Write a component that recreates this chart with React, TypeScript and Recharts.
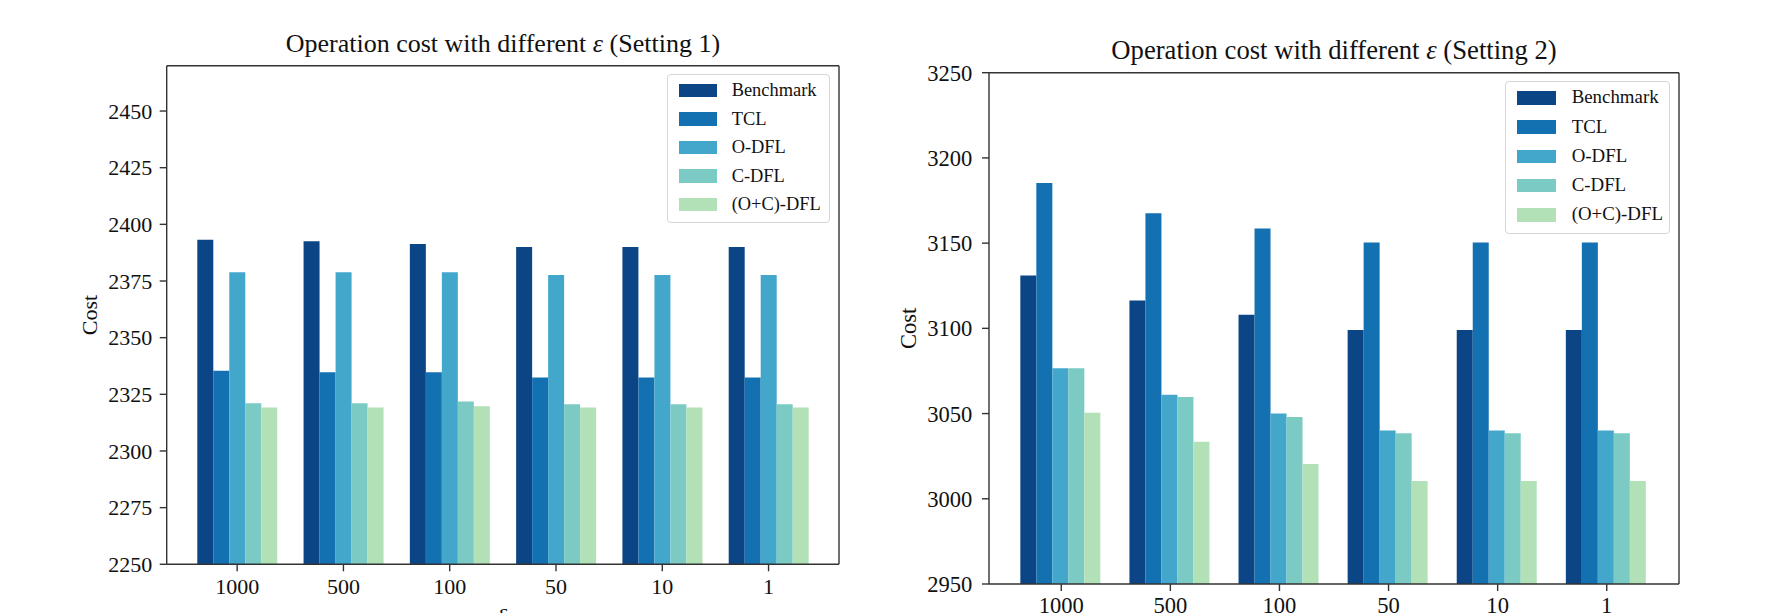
import React from "react";
import { BarChart, Bar, XAxis, YAxis, Legend } from "recharts";

const FONT = '"Liberation Serif", "Times New Roman", serif';

const epsilons = ["1000", "500", "100", "50", "10", "1"];
const seriesNames = ["Benchmark", "TCL", "O-DFL", "C-DFL", "(O+C)-DFL"];
const seriesColors = ["#0b4585", "#1371b1", "#43a7cc", "#7bcac4", "#b2e1b8"];

// Setting 1
const benchmark1 = [2393.2, 2392.5, 2391.3, 2390.0, 2390.0, 2390.0];
const tcl1 = [2335.4, 2334.7, 2334.7, 2332.4, 2332.4, 2332.4];
const odfl1 = [2378.9, 2378.9, 2378.9, 2377.7, 2377.7, 2377.7];
const cdfl1 = [2321.1, 2321.1, 2321.8, 2320.6, 2320.6, 2320.6];
const ocdfl1 = [2319.2, 2319.2, 2319.7, 2319.2, 2319.2, 2319.2];
const yTicks1 = [2250, 2275, 2300, 2325, 2350, 2375, 2400, 2425, 2450];

// Setting 2
const benchmark2 = [3131.0, 3116.3, 3108.0, 3099.0, 3099.0, 3099.0];
const tcl2 = [3185.3, 3167.5, 3158.6, 3150.4, 3150.4, 3150.4];
const odfl2 = [3076.6, 3061.0, 3050.0, 3040.0, 3040.0, 3040.0];
const cdfl2 = [3076.6, 3059.7, 3048.0, 3038.4, 3038.4, 3038.4];
const ocdfl2 = [3050.5, 3033.4, 3020.4, 3010.5, 3010.5, 3010.5];
const yTicks2 = [2950, 3000, 3050, 3100, 3150, 3200, 3250];

function buildRows(cols: number[][]) {
  return epsilons.map((eps, i) => {
    const row: any = { eps };
    seriesNames.forEach((name, k) => {
      row[name] = cols[k][i];
    });
    return row;
  });
}

const AXIS = { stroke: "#333", strokeWidth: 1.4 };

const LegendBox = ({ s, w, h }: { s: number; w: number; h: number }) => (
  <div
    style={{
      position: "relative",
      width: w,
      height: h,
      boxSizing: "border-box",
      border: "1px solid #d6d6d6",
      borderRadius: 4,
      background: "rgba(255,255,255,0.85)",
      fontFamily: FONT,
      color: "#111",
    }}
  >
    {seriesNames.map((name, i) => {
      const cy = (15.3 + i * 28.55) * s;
      const fs = 18.4 * s;
      return (
        <React.Fragment key={name}>
          <div
            style={{
              position: "absolute",
              left: 11 * s,
              top: cy - 6.6 * s,
              width: 38 * s,
              height: 13.3 * s,
              background: seriesColors[i],
            }}
          />
          <div
            style={{
              position: "absolute",
              left: 64 * s,
              top: cy - fs / 2,
              fontSize: fs,
              lineHeight: `${fs}px`,
              whiteSpace: "nowrap",
            }}
          >
            {name}
          </div>
        </React.Fragment>
      );
    })}
  </div>
);

interface PanelProps {
  rows: any[];
  domain: [number, number];
  ticks: number[];
  title: string;
  left: number;
  s: number;
  margin: { top: number; right: number; bottom: number; left: number };
  yAxisWidth: number;
  xAxisHeight: number;
  pad: { left: number; right: number };
  costOffset: number;
  yTickMargin: number;
  xTickMargin: number;
  titleBaseline: number;
  titleCenter: number;
  legend: { left: number; top: number; w: number; h: number };
  showEps: boolean;
}

const Panel = (p: PanelProps) => {
  const tickFs = 22 * p.s;
  const titleFs = 26 * p.s;
  // the frame axes (top / right) take 1px each, so shave that off the margins
  const margin = {
    top: p.margin.top - 1,
    right: p.margin.right - 1,
    bottom: p.margin.bottom,
    left: p.margin.left,
  };
  return (
    <div style={{ position: "absolute", left: p.left, top: 0, width: 900, height: 613 }}>
      <div
        style={{
          position: "absolute",
          left: p.titleCenter - 400,
          width: 800,
          top: p.titleBaseline - 0.8375 * titleFs,
          textAlign: "center",
          fontFamily: FONT,
          fontSize: titleFs,
          lineHeight: `${titleFs}px`,
          color: "#111",
          whiteSpace: "nowrap",
        }}
      >
        Operation cost with different <span style={{ fontStyle: "italic" }}>ε</span> ({p.title})
      </div>
      <BarChart
        width={900}
        height={613}
        data={p.rows}
        margin={margin}
        barGap={0}
        barCategoryGap="12.5%"
      >
        <XAxis
          dataKey="eps"
          height={p.xAxisHeight}
          padding={p.pad}
          axisLine={AXIS}
          tickLine={AXIS}
          tickSize={7}
          tickMargin={p.xTickMargin}
          tick={{ fill: "#111", fontSize: tickFs, fontFamily: FONT }}
          interval={0}
          label={
            p.showEps
              ? {
                  value: "ε",
                  position: "bottom",
                  offset: -1,
                  style: { fill: "#111", fontSize: tickFs, fontFamily: FONT, fontStyle: "italic" },
                }
              : undefined
          }
        />
        <XAxis
          xAxisId="top"
          dataKey="eps"
          orientation="top"
          height={1}
          padding={p.pad}
          tick={false}
          tickLine={false}
          axisLine={AXIS}
        />
        <YAxis
          domain={p.domain}
          ticks={p.ticks}
          allowDataOverflow
          width={p.yAxisWidth}
          axisLine={AXIS}
          tickLine={AXIS}
          tickSize={7}
          tickMargin={p.yTickMargin}
          tick={{ fill: "#111", fontSize: tickFs, fontFamily: FONT }}
          interval={0}
          label={{
            value: "Cost",
            angle: -90,
            position: "insideLeft",
            offset: p.costOffset,
            style: { textAnchor: "middle", fill: "#111", fontSize: tickFs, fontFamily: FONT },
          }}
        />
        <YAxis
          yAxisId="right"
          orientation="right"
          domain={p.domain}
          allowDataOverflow
          width={1}
          tick={false}
          tickLine={false}
          axisLine={AXIS}
        />
        {seriesNames.map((name, i) => (
          <Bar key={name} dataKey={name} fill={seriesColors[i]} isAnimationActive={false} />
        ))}
        <Legend
          layout="vertical"
          align="center"
          verticalAlign="middle"
          wrapperStyle={{
            left: p.legend.left,
            top: p.legend.top,
            width: p.legend.w,
            height: p.legend.h,
          }}
          content={() => <LegendBox s={p.s} w={p.legend.w} h={p.legend.h} />}
        />
      </BarChart>
    </div>
  );
};

export default function App() {
  const rows1 = buildRows([benchmark1, tcl1, odfl1, cdfl1, ocdfl1]);
  const rows2 = buildRows([benchmark2, tcl2, odfl2, cdfl2, ocdfl2]);
  return (
    <div
      style={{
        position: "absolute",
        left: 0,
        top: 0,
        width: 1788,
        height: 613,
        overflow: "hidden",
        background: "#fff",
      }}
    >
      <Panel
        rows={rows1}
        domain={[2250, 2470]}
        ticks={yTicks1}
        title="Setting 1"
        left={0}
        s={1}
        margin={{ top: 65.7, right: 61, bottom: 8.7, left: 66.7 }}
        yAxisWidth={100}
        xAxisHeight={40}
        pad={{ left: 17.3, right: 17.3 }}
        costOffset={22.3}
        yTickMargin={7.4}
        xTickMargin={7}
        titleBaseline={52.7}
        titleCenter={502.9}
        legend={{ left: 666.7, top: 74, w: 163.3, h: 148.7 }}
        showEps={true}
      />
      <Panel
        rows={rows2}
        domain={[2950, 3250]}
        ticks={yTicks2}
        title="Setting 2"
        left={888}
        s={1.026}
        margin={{ top: 72.7, right: 109, bottom: 0, left: 11 }}
        yAxisWidth={90}
        xAxisHeight={29}
        pad={{ left: 17.7, right: 17.7 }}
        costOffset={9}
        yTickMargin={9.7}
        xTickMargin={6}
        titleBaseline={59}
        titleCenter={1334 - 888}
        legend={{ left: 1505 - 888, top: 81, w: 165, h: 152.5 }}
        showEps={false}
      />
    </div>
  );
}
